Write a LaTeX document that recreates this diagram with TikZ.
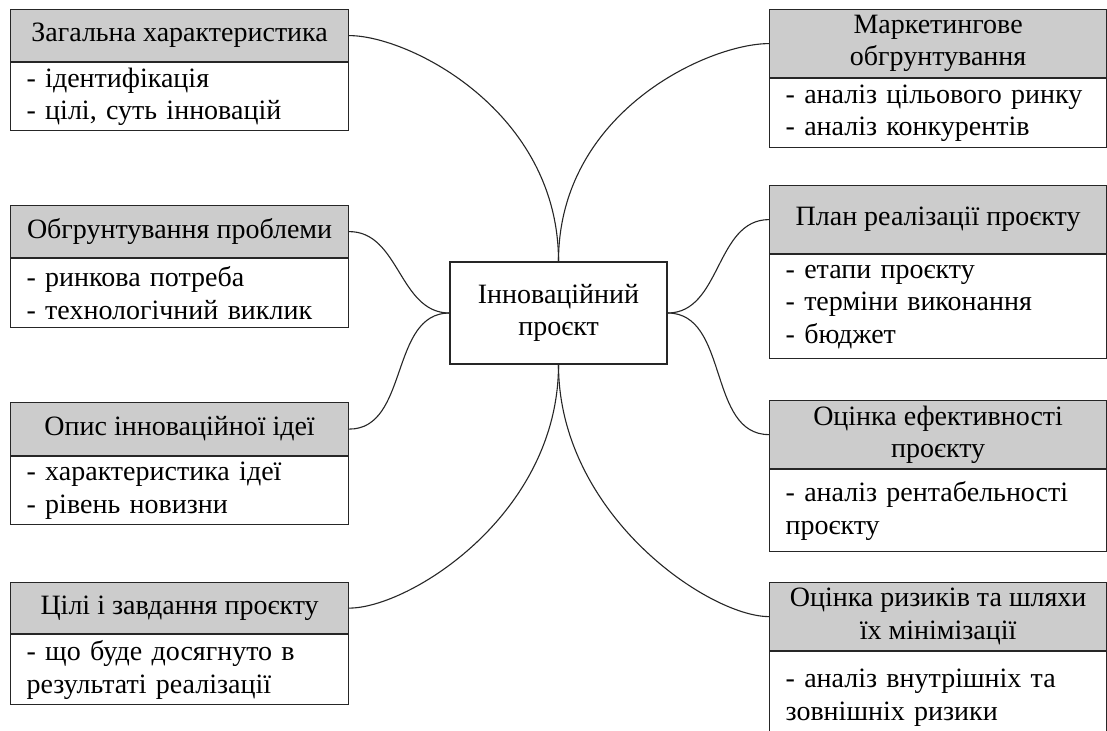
\documentclass[tikz,border=0pt]{standalone}
\usepackage{fontspec}
\setmainfont{Liberation Serif}
\newcommand\diafont{\fontsize{28pt}{32.5pt}\selectfont}
\tikzset{
  hdr/.style={draw=black!85, fill=gray!40, line width=1.2pt, inner sep=0pt,
    align=center, anchor=north west, font=\diafont},
  bdy/.style={draw=black!85, fill=white, line width=1.2pt, inner xsep=16pt, inner ysep=0pt,
    align=left, anchor=north west, font=\diafont},
  lw/.style={minimum width=338pt},
  rw/.style={minimum width=337pt},
  ctr/.style={draw=black!85, fill=white, line width=1.2pt, minimum width=217pt,
    minimum height=102pt, align=center, font=\diafont},
  link/.style={line width=1.1pt, draw=black!85}
}
\begin{document}
\begin{tikzpicture}[x=1pt,y=-1pt]
\useasboundingbox (0,0) rectangle (1107,730);
\fill[white] (0,0) rectangle (1107,730);
\clip (0,0) rectangle (1107,730);

% centre
\node[ctr] (C) at (558.5,313) {Інноваційний\\проєкт};

% left column
\node[hdr,lw,minimum height=52pt] (L1h) at (10,9) {Загальна характеристика};
\node[bdy,lw,minimum height=68pt,text width=306pt] (L1b) at (L1h.south west) {- ідентифікація\\- цілі, суть інновацій};

\node[hdr,lw,minimum height=52pt] (L2h) at (10,205) {Обгрунтування проблеми};
\node[bdy,lw,minimum height=69pt,text width=306pt] (L2b) at (L2h.south west) {- ринкова потреба\\- технологічний виклик};

\node[hdr,lw,minimum height=53pt] (L3h) at (10,402) {Опис інноваційної ідеї};
\node[bdy,lw,minimum height=68pt,text width=306pt] (L3b) at (L3h.south west) {- характеристика ідеї\\- рівень новизни};

\node[hdr,lw,minimum height=51pt] (L4h) at (10,582) {Цілі і завдання проєкту};
\node[bdy,lw,minimum height=70pt,text width=306pt] (L4b) at (L4h.south west) {- що буде досягнуто в\\результаті реалізації};

% right column
\node[hdr,rw,minimum height=68pt] (R1h) at (769,9) {Маркетингове\\обгрунтування};
\node[bdy,rw,minimum height=69pt,text width=305pt] (R1b) at (R1h.south west) {- аналіз цільового ринку\\- аналіз конкурентів};

\node[hdr,rw,minimum height=68pt] (R2h) at (769,185) {План реалізації проєкту};
\node[bdy,rw,minimum height=104pt,text width=305pt] (R2b) at (R2h.south west) {- етапи проєкту\\- терміни виконання\\- бюджет};

\node[hdr,rw,minimum height=68pt] (R3h) at (769,400) {Оцінка ефективності\\проєкту};
\node[bdy,rw,minimum height=82pt,text width=305pt] (R3b) at (R3h.south west) {- аналіз рентабельності\\проєкту};

\node[hdr,rw,minimum height=68pt] (R4h) at (769,582) {Оцінка ризиків та шляхи\\їх мінімізації};
\node[bdy,rw,minimum height=92pt,text width=305pt] (R4b) at (R4h.south west) {- аналіз внутрішніх та\\зовнішніх ризики};

% connectors
\draw[link] (L1h.east) .. controls +(60,0) and +(0,-150) .. (C.north);
\draw[link] (R1h.west) .. controls +(-60,0) and +(0,-150) .. (C.north);
\draw[link] (L2h.east) to[out=0,in=180] (C.west);
\draw[link] (L3h.east) to[out=0,in=180] (C.west);
\draw[link] (R2h.west) to[out=180,in=0] (C.east);
\draw[link] (R3h.west) to[out=180,in=0] (C.east);
\draw[link] (L4h.east) .. controls +(60,0) and +(0,150) .. (C.south);
\draw[link] (R4h.west) .. controls +(-60,0) and +(0,150) .. (C.south);
\end{tikzpicture}
\end{document}
